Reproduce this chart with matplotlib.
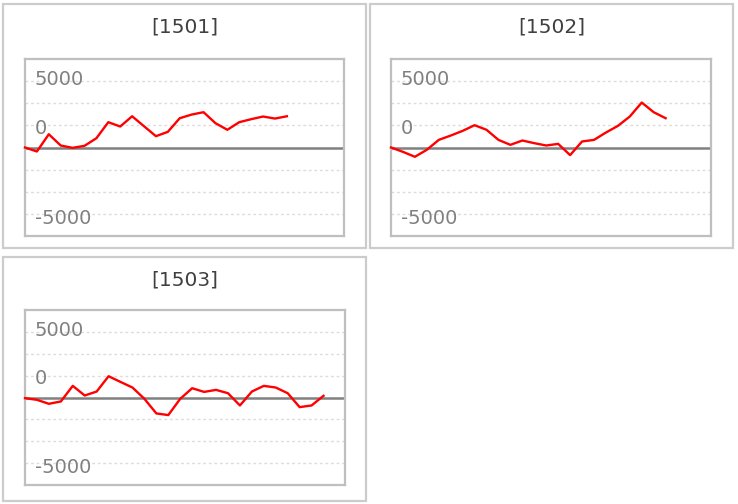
import matplotlib
matplotlib.use('Agg')
import matplotlib.pyplot as plt
from matplotlib.patches import Rectangle
from matplotlib.transforms import blended_transform_factory

# chart data
titles = ['[1501]', '[1502]', '[1503]']
values1501 = [0, -450, 1500, 225, -40, 190, 1050, 2860, 2370, 3530, 2400, 1280,
              1770, 3310, 3720, 3990, 2750, 2000, 2860, 3200, 3500, 3270, 3530]
values1502 = [0, -490, -1050, -260, 860, 1350, 1880, 2520, 2000, 860, 300, 790,
              490, 225, 410, -860, 680, 860, 1690, 2440, 3500, 5080, 3990, 3310]
values1503 = [-75, -265, -720, -455, 1330, 230, 680, 2430, 1780, 1140, -150, -1820,
              -2010, -150, 1060, 640, 870, 490, -910, 680, 1330, 1140, 490, -1100,
              -910, 190]
tickLabels = ['5000', '0', '-5000']

W, H = 738, 504


def figRect(x0, y0, x1, y1):
    # pixel box (top-left origin) -> figure fraction rect
    return [x0 / W, (H - y1) / H, (x1 - x0) / W, (y1 - y0) / H]


def drawPanel(fig, box, plotArea, title, values):
    bx = figRect(*box)
    fig.add_artist(Rectangle((bx[0], bx[1]), bx[2], bx[3], transform=fig.transFigure,
                             fill=False, edgecolor='#cccccc', lw=1.6))
    fig.text(bx[0] + bx[2] / 2, (H - (box[1] + 23)) / H, title, ha='center', va='center',
             fontsize=14.5, color='#404040', fontfamily='DejaVu Sans')

    ax = fig.add_axes(figRect(*plotArea))
    ax.set_xlim(0, 26.8)
    ax.set_ylim(-10000, 10000)
    ax.set_xticks([])
    ax.set_yticks([])
    for s in ax.spines.values():
        s.set_color('#bfbfbf')
        s.set_linewidth(1.6)

    for g in [-7500, -5000, -2500, 2500, 5000, 7500]:
        ax.axhline(g, color='#dcdcdc', lw=1, linestyle=(0, (2, 2)), zorder=1)
    ax.axhline(0, color='#808080', lw=1.8, zorder=2)

    ax.plot(range(len(values)), values, color='#ff0000', lw=1.7, zorder=3, clip_on=False)

    trans = blended_transform_factory(ax.transAxes, ax.transData)
    for lbl, yy in zip(tickLabels, [7700, 2200, -8000]):
        ax.text(0.03, yy, lbl, transform=trans, ha='left', va='center',
                fontsize=14, color='#808080')
    return ax


def main():
    fig = plt.figure(figsize=(7.38, 5.04), dpi=100)
    fig.patch.set_facecolor('white')

    drawPanel(fig, (3, 4, 366, 248), (25, 59, 344, 236), titles[0], values1501)
    drawPanel(fig, (370, 4, 733, 248), (391, 59, 711, 236), titles[1], values1502)
    drawPanel(fig, (3, 257, 366, 501), (25, 310, 345, 485), titles[2], values1503)

    fig.savefig('out.png', dpi=100)


if __name__ == '__main__':
    main()
